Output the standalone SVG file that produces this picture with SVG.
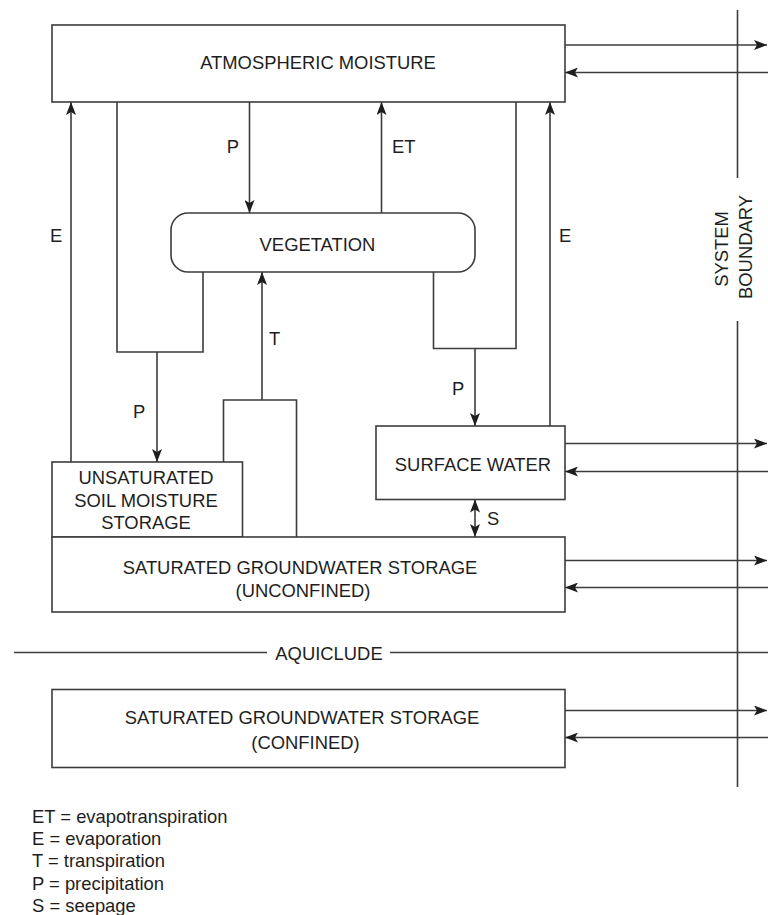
<svg xmlns="http://www.w3.org/2000/svg" width="768" height="915" viewBox="0 0 768 915">
<defs>
<style>
.box{fill:#fff;stroke:#3c3c3c;stroke-width:1.6}
.ln{fill:none;stroke:#3c3c3c;stroke-width:1.6}
.ar{fill:none;stroke:#3c3c3c;stroke-width:1.6;marker-end:url(#ah)}
.ar2{fill:none;stroke:#3c3c3c;stroke-width:1.6;marker-start:url(#ah);marker-end:url(#ah)}
text{font-family:"Liberation Sans",Arial,sans-serif;font-size:18.4px;fill:#1e1e1e}
.m{text-anchor:middle}
</style>
<marker id="ah" viewBox="0 0 13 10" refX="13" refY="5" markerWidth="13" markerHeight="10" orient="auto-start-reverse" markerUnits="userSpaceOnUse">
<path d="M0,0 L13,5 L0,10 L3,5 z" fill="#1e1e1e"/>
</marker>
</defs>
<rect width="768" height="915" fill="#fff"/>

<g id="connectors">
<!-- left E -->
<line class="ar" x1="71" y1="462" x2="71" y2="102"/>
<!-- left P loop -->
<polyline class="ln" points="117,102 117,352 203,352 203,272"/>
<line class="ar" x1="157" y1="352" x2="157" y2="462"/>
<!-- P atm to vegetation -->
<line class="ar" x1="249.5" y1="102" x2="249.5" y2="213"/>
<!-- ET -->
<line class="ar" x1="381.5" y1="213" x2="381.5" y2="102"/>
<!-- right P loop -->
<polyline class="ln" points="516,102 516,348.5 433.5,348.5 433.5,272"/>
<line class="ar" x1="475" y1="348.5" x2="475" y2="426"/>
<!-- right E -->
<line class="ar" x1="550" y1="426" x2="550" y2="102"/>
<!-- T structure -->
<polyline class="ln" points="223.5,462 223.5,400 296.5,400 296.5,537"/>
<line class="ar" x1="262" y1="400" x2="262" y2="272"/>
<!-- S -->
<line class="ar2" x1="475" y1="499.5" x2="475" y2="537"/>
<!-- boundary arrows -->
<line class="ar" x1="565" y1="45" x2="767" y2="45"/>
<line class="ar" x1="768" y1="72.5" x2="565" y2="72.5"/>
<line class="ar" x1="565" y1="443.5" x2="767" y2="443.5"/>
<line class="ar" x1="768" y1="471.5" x2="565" y2="471.5"/>
<line class="ar" x1="565" y1="560.5" x2="767" y2="560.5"/>
<line class="ar" x1="768" y1="587.5" x2="565" y2="587.5"/>
<line class="ar" x1="565" y1="710.5" x2="767" y2="710.5"/>
<line class="ar" x1="768" y1="737.5" x2="565" y2="737.5"/>
<!-- labels -->
<text x="233" y="153" class="m">P</text>
<text x="392" y="153">ET</text>
<text x="50" y="242">E</text>
<text x="559" y="242">E</text>
<text x="269" y="345">T</text>
<text x="133" y="418">P</text>
<text x="452" y="395">P</text>
<text x="487" y="525">S</text>
</g>

<g id="system-boundary">
<line class="ln" x1="737.5" y1="10" x2="737.5" y2="178"/>
<line class="ln" x1="737.5" y1="321" x2="737.5" y2="787"/>
<text class="m" transform="translate(728,249) rotate(-90)">SYSTEM</text>
<text class="m" transform="translate(752,247) rotate(-90)">BOUNDARY</text>
</g>

<g id="aquiclude">
<line class="ln" x1="14" y1="652.5" x2="267" y2="652.5"/>
<line class="ln" x1="390" y1="652.5" x2="768" y2="652.5"/>
<text class="m" x="329" y="660">AQUICLUDE</text>
</g>

<g id="atmospheric-moisture">
<rect class="box" x="52" y="25" width="513" height="77"/>
<text class="m" x="318" y="68.5">ATMOSPHERIC MOISTURE</text>
</g>

<g id="vegetation">
<rect class="box" x="171" y="213" width="304" height="59" rx="17" ry="17"/>
<text class="m" x="317.5" y="250.5">VEGETATION</text>
</g>

<g id="surface-water">
<rect class="box" x="376" y="426" width="189" height="73.5"/>
<text class="m" x="473" y="471">SURFACE WATER</text>
</g>

<g id="unsaturated-soil">
<rect class="box" x="52" y="462" width="190.5" height="75"/>
<text class="m" x="146" y="484">UNSATURATED</text>
<text class="m" x="146" y="506.5">SOIL MOISTURE</text>
<text class="m" x="146" y="529">STORAGE</text>
</g>

<g id="saturated-unconfined">
<rect class="box" x="52" y="537" width="513" height="75"/>
<text class="m" x="300" y="574">SATURATED GROUNDWATER STORAGE</text>
<text class="m" x="303" y="597">(UNCONFINED)</text>
</g>

<g id="saturated-confined">
<rect class="box" x="52" y="689.5" width="513" height="78"/>
<text class="m" x="302" y="724">SATURATED GROUNDWATER STORAGE</text>
<text class="m" x="305.5" y="749">(CONFINED)</text>
</g>

<g id="legend">
<text x="32" y="822.5">ET = evapotranspiration</text>
<text x="32" y="845">E = evaporation</text>
<text x="32" y="867">T = transpiration</text>
<text x="32" y="889.5">P = precipitation</text>
<text x="32" y="911.5">S = seepage</text>
</g>
</svg>
